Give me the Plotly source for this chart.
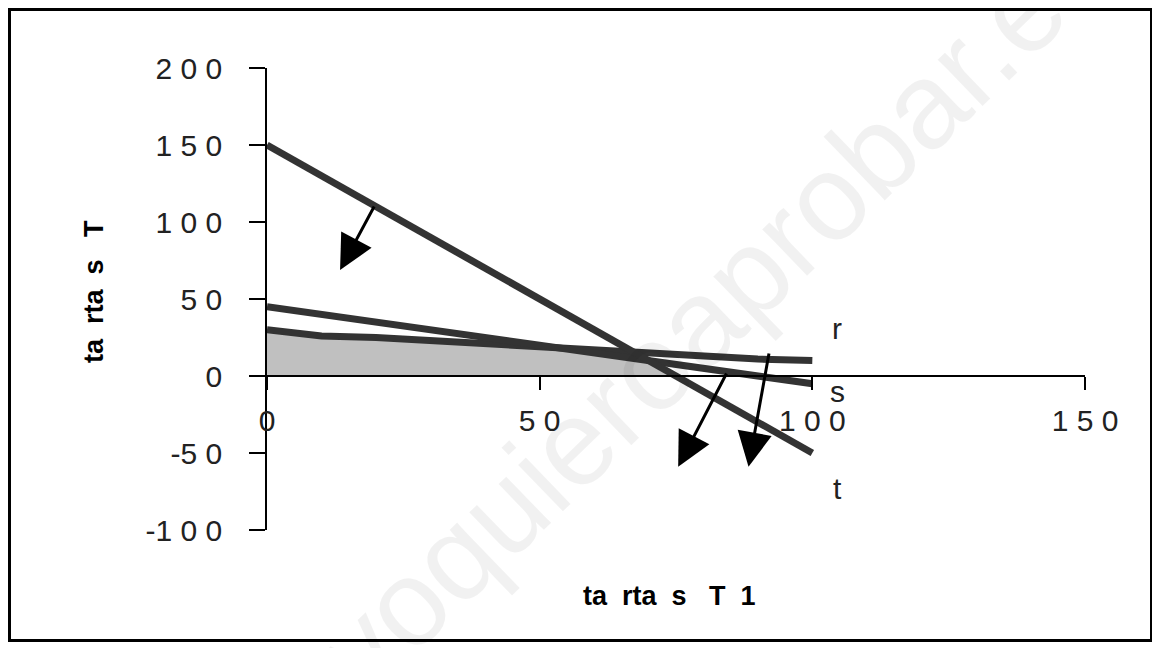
import numpy as np
import plotly.graph_objects as go

# data
x_vals = [0, 10, 20, 30, 40, 50, 60, 70, 80, 90, 100]
r_vals = [30, 26, 25, 23, 21, 19, 17, 15, 12, 11, 10]
s_vals = [45, 40, 35, 30, 25, 20, 15, 10, 5, 0, -5]
t_vals = [150, 130, 110, 90, 70, 50, 30, 10, -10, -30, -50]
series_names = ["r", "s", "t"]
label_y = [31, -10, -73]

x_ticks = [0, 50, 100, 150]
x_ticktext = ["0", "5 0", "1 0 0", "1 5 0"]
y_ticks = [-100, -50, 0, 50, 100, 150, 200]
y_ticktext = ["-1 0 0", "-5 0", "0", "5 0", "1 0 0", "1 5 0", "2 0 0"]

# arrows: (tail_x, tail_y, tip_x, tip_y)
arrows = [(19.8, 111, 13.4, 68.8), (84.4, 2.6, 75.4, -59), (92.1, 15.6, 88.3, -59)]

FONT = "Liberation Sans, Arial, sans-serif"
LINE_COL = "#333333"
NB = "\u00a0"

# figure geometry (page has an 8px body margin)
W, H = 1152, 640
L, R, T, B = 259, 75, 60, 118
PW, PH = W - L - R, H - T - B


def px(xp):
    return (xp - L) / PW


def py(yp):
    return (H - B - yp) / PH


fig = go.Figure()

# feasible region (shaded)
xf = np.linspace(0, 100, 1001)
yf = np.minimum.reduce([np.interp(xf, x_vals, v) for v in (r_vals, s_vals, t_vals)])
yf = np.clip(yf, 0, None)
fig.add_trace(go.Scatter(x=xf, y=yf, mode="lines", line=dict(width=0),
                         fill="tozeroy", fillcolor="#c0c0c0", hoverinfo="skip",
                         showlegend=False))

for name, vals in zip(series_names, [r_vals, s_vals, t_vals]):
    fig.add_trace(go.Scatter(x=x_vals, y=vals, mode="lines", name=name,
                             line=dict(color=LINE_COL, width=7), showlegend=False))

annotations = []
# watermark
annotations.append(dict(text="yoquieroaprobar.es", xref="paper", yref="paper",
                        x=px(705), y=py(300), showarrow=False,
                        textangle=-44, font=dict(family=FONT, size=122, color="rgba(0,0,0,0.055)")))

for name, ly in zip(series_names, label_y):
    annotations.append(dict(text=name, x=104.6, y=ly, xref="x", yref="y", showarrow=False,
                            font=dict(family=FONT, size=30, color="#222222")))

for tx, ty, hx, hy in arrows:
    annotations.append(dict(x=hx, y=hy, ax=tx, ay=ty, xref="x", yref="y", axref="x", ayref="y",
                            showarrow=True, arrowhead=2, arrowsize=2.3, arrowwidth=3,
                            arrowcolor="black", text=""))

xtitle = "ta" + NB * 2 + "rta" + NB * 2 + "s" + NB * 3 + "T" + NB * 2 + "1"
ytitle = "ta" + NB * 2 + "rta" + NB * 2 + "s" + NB * 3 + "T"
annotations.append(dict(text="<b>" + xtitle + "</b>", xref="paper", yref="paper",
                        x=px(661), y=py(605), showarrow=False,
                        font=dict(family=FONT, size=27, color="black")))
annotations.append(dict(text="<b>" + ytitle + "</b>", xref="paper", yref="paper",
                        x=px(69), y=py(284), showarrow=False,
                        textangle=-90, font=dict(family=FONT, size=27, color="black")))

fig.update_layout(
    width=W, height=H,
    margin=dict(l=L, r=R, t=T, b=B),
    paper_bgcolor="white", plot_bgcolor="white",
    annotations=annotations,
    shapes=[dict(type="rect", xref="paper", yref="paper",
                 x0=px(1.5), x1=px(1143.5), y0=py(632.5), y1=py(1.5),
                 line=dict(color="black", width=3))],
    xaxis=dict(range=[0, 150], tickvals=x_ticks, ticktext=x_ticktext,
               anchor="free", position=1 / 3, showgrid=False, zeroline=False,
               showline=True, linecolor="black", linewidth=1.5,
               ticks="outside", ticklen=13, tickwidth=1.5, tickcolor="black",
               ticklabelstandoff=5,
               tickfont=dict(family=FONT, size=30, color="#222222")),
    yaxis=dict(range=[-100, 200], tickvals=y_ticks, ticktext=y_ticktext,
               showgrid=False, zeroline=False,
               showline=True, linecolor="black", linewidth=1.5,
               ticks="outside", ticklen=16, tickwidth=1.5, tickcolor="black",
               ticklabelstandoff=21,
               tickfont=dict(family=FONT, size=30, color="#222222")),
)

fig.write_html("out.html")
